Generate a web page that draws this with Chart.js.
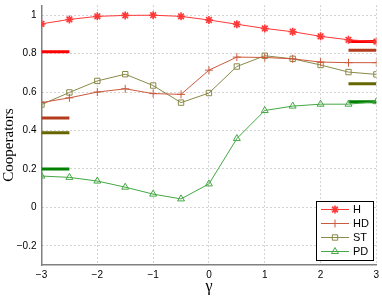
<!DOCTYPE html>
<html>
<head>
<meta charset="utf-8">
<script src="https://cdn.jsdelivr.net/npm/chart.js@4/dist/chart.umd.min.js"></script>
<style>
  html, body { margin: 0; padding: 0; background: #fff; }
  #wrap { width: 382px; height: 297px; }
</style>
</head>
<body>
<div id="wrap"><canvas id="coopCanvas"></canvas></div>
<script>
/* data */
const gamma = [-3, -2.5, -2, -1.5, -1, -0.5, 0, 0.5, 1, 1.5, 2, 2.5, 3];
const hVals  = [0.955, 0.978, 0.994, 0.999, 1.0, 0.994, 0.975, 0.953, 0.931, 0.914, 0.89, 0.872, 0.863];
const hdVals = [0.545, 0.57, 0.60, 0.617, 0.592, 0.588, 0.714, 0.782, 0.78, 0.773, 0.756, 0.753, 0.753];
const stVals = [0.535, 0.598, 0.658, 0.693, 0.634, 0.545, 0.595, 0.733, 0.789, 0.773, 0.741, 0.704, 0.692];
const pdVals = [0.163, 0.156, 0.137, 0.105, 0.069, 0.044, 0.122, 0.358, 0.504, 0.527, 0.537, 0.537, 0.55];

// short reference bars at the two ends (gamma = -3 and gamma = 3)
const leftBarX = [-3, -2.5];
const rightBarX = [2.5, 3];
const leftBars  = { H: 0.81, HD: 0.465, ST: 0.388, PD: 0.20 };
const rightBars = { H: 0.863, HD: 0.817, ST: 0.643, PD: 0.55 };

const yTicks = [-0.2, 0, 0.2, 0.4, 0.6, 0.8, 1];
const xTicks = [-3, -2, -1, 0, 1, 2, 3];

const series = [
  { name: 'H',  vals: hVals,  color: '#ff3838', barColor: '#ff0000', style: 'star',     r: 4,   bw: 1.6 },
  { name: 'HD', vals: hdVals, color: '#cc5a3c', barColor: '#b23c1c', style: 'cross',    r: 4,   bw: 1 },
  { name: 'ST', vals: stVals, color: '#8a8a48', barColor: '#666600', style: 'rect',     r: 3.8, bw: 1 },
  { name: 'PD', vals: pdVals, color: '#44a844', barColor: '#008000', style: 'triangle', r: 4,   bw: 1 }
];

const pts = (xs, ys) => xs.map((x, i) => ({ x: x, y: ys[i] }));

let datasets = [];
series.forEach(s => {
  datasets.push({
    label: s.name,
    data: pts(gamma, s.vals),
    borderColor: s.color,
    backgroundColor: 'transparent',
    borderWidth: 1,
    pointStyle: s.style,
    pointRadius: s.r,
    pointBorderColor: s.color,
    pointBorderWidth: s.bw,
    pointBackgroundColor: 'transparent',
    tension: 0
  });
});
series.forEach(s => {
  [[leftBarX, leftBars], [rightBarX, rightBars]].forEach(([xs, bars]) => {
    datasets.push({
      label: '_' + s.name,
      data: pts(xs, [bars[s.name], bars[s.name]]),
      borderColor: s.barColor,
      borderWidth: 3,
      pointRadius: 0,
      tension: 0
    });
  });
});

const tickFont = { family: '"Liberation Sans", Arial, sans-serif', size: 10 };
const minus = v => String(v).replace('-', '\u2212');

// legend box like the matlab one + y label, drawn by hand
const extras = {
  id: 'extras',
  afterDraw(chart) {
    const ctx = chart.ctx;
    ctx.save();
    // y axis label
    ctx.font = '15px "Liberation Serif", "DejaVu Serif", serif';
    ctx.fillStyle = '#000';
    ctx.textAlign = 'center';
    ctx.textBaseline = 'middle';
    ctx.translate(9, 145);
    ctx.rotate(-Math.PI / 2);
    ctx.fillText('Cooperators', 0, 0);
    ctx.restore();

    const x0 = 316, y0 = 201, w = 57, h = 59;
    ctx.save();
    ctx.fillStyle = '#fff';
    ctx.fillRect(x0, y0, w, h);
    ctx.strokeStyle = '#000';
    ctx.lineWidth = 1;
    ctx.strokeRect(x0 + 0.5, y0 + 0.5, w, h);
    ctx.font = '11px "Liberation Sans", Arial, sans-serif';
    ctx.textBaseline = 'middle';
    series.forEach((s, i) => {
      const cy = y0 + 8.5 + i * 14;
      ctx.strokeStyle = s.color;
      ctx.lineWidth = 1;
      ctx.beginPath();
      ctx.moveTo(x0 + 5, cy);
      ctx.lineTo(x0 + 33, cy);
      ctx.stroke();
      ctx.fillStyle = 'transparent';
      ctx.lineWidth = s.bw;
      Chart.helpers.drawPoint(ctx, { pointStyle: s.style, radius: s.r, borderWidth: s.bw }, x0 + 19, cy);
      ctx.fillStyle = '#000';
      ctx.fillText(s.name, x0 + 37, cy + 0.5);
    });
    ctx.restore();
  }
};

const coopChart = new Chart(document.getElementById('coopCanvas'), {
  type: 'line',
  data: { datasets: datasets },
  options: {
    responsive: true,
    maintainAspectRatio: false,
    animation: { duration: 0 },
    layout: { padding: { left: 0, right: 3.7, top: 0, bottom: 0 } },
    plugins: {
      legend: { display: false },
      tooltip: { enabled: false }
    },
    scales: {
      x: {
        type: 'linear',
        min: -3, max: 3,
        afterBuildTicks: sc => { sc.ticks = xTicks.map(v => ({ value: v })); },
        afterFit: sc => { sc.height = 32; sc.paddingLeft = 0; sc.paddingRight = 0; },
        grid: { color: '#a8a8a8', lineWidth: 1, drawTicks: false },
        border: { color: '#808080', width: 1.5, dash: [1, 3] },
        ticks: { color: '#000', padding: 4, font: tickFont, callback: minus },
        title: {
          display: true, text: 'γ', color: '#000', padding: { top: 0, bottom: 1 },
          font: { family: '"Liberation Serif", "DejaVu Serif", serif', size: 16 }
        }
      },
      y: {
        min: -0.3, max: 1.05,
        afterBuildTicks: sc => { sc.ticks = yTicks.map(v => ({ value: v })); },
        afterFit: sc => { sc.width = 41.5; sc.paddingTop = 0; sc.paddingBottom = 0; },
        grid: { color: '#a8a8a8', lineWidth: 1, drawTicks: false },
        border: { color: '#808080', width: 1.5, dash: [1, 3] },
        ticks: { color: '#000', padding: 5, font: tickFont, callback: minus }
      }
    }
  },
  plugins: [extras]
});
</script>
</body>
</html>
